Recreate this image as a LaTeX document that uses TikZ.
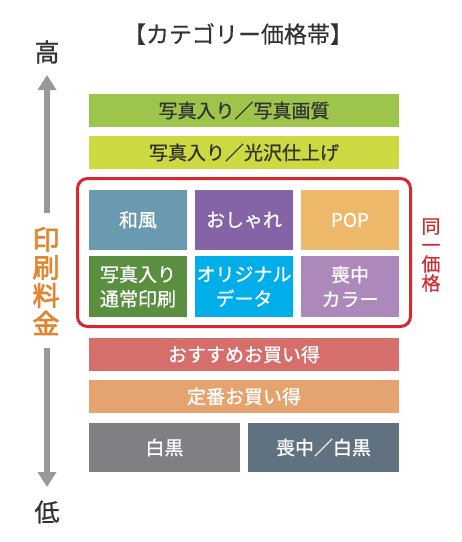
\documentclass[tikz,border=0pt]{standalone}
\usepackage{fontspec}
\setmainfont{Noto Sans CJK JP}[FakeBold=0.8]
\newfontfamily\jpb{Noto Sans CJK JP}[FakeBold=2.5]
\newfontfamily\jpr{Noto Sans CJK JP}[FakeBold=0.5]
\usetikzlibrary{arrows.meta}
\definecolor{cA}{HTML}{9DC54B}
\definecolor{cB}{HTML}{CCD940}
\definecolor{cC}{HTML}{6A9AB0}
\definecolor{cD}{HTML}{8464A6}
\definecolor{cE}{HTML}{EDB869}
\definecolor{cF}{HTML}{5A8E40}
\definecolor{cG}{HTML}{00AEEA}
\definecolor{cH}{HTML}{AD89BB}
\definecolor{cI}{HTML}{D66E6B}
\definecolor{cJ}{HTML}{E5A36F}
\definecolor{cK}{HTML}{808084}
\definecolor{cL}{HTML}{60717F}
\definecolor{redb}{HTML}{D42A2F}
\definecolor{orng}{HTML}{E0862F}
\definecolor{arr}{HTML}{999999}
\definecolor{txt}{HTML}{333333}
\begin{document}
\begin{tikzpicture}[x=1pt,y=-1pt,
  cell/.style={rectangle,inner sep=0pt,draw=none,align=center,text=white,
     font=\fontsize{19}{22}\selectfont},
  wide/.style={cell,minimum width=310pt,minimum height=33pt},
  gridc/.style={cell,minimum width=98pt,minimum height=60.5pt},
  half/.style={cell,minimum width=151pt,minimum height=49pt},
  darktext/.style={text=txt},
  garrow/.style={draw=arr,line width=6pt,-{Triangle[length=15pt,width=18pt]}}]
\useasboundingbox (0,0) rectangle (462,542);
\fill[white] (0,0) rectangle (462,542);
% title
\node[font=\jpr\fontsize{23}{26}\selectfont,text=txt] (title) at (238,34) {【カテゴリー価格帯】};
% wide boxes
\node[wide,darktext,fill=cA] (b1) at (244,110.5) {写真入り／写真画質};
\node[wide,darktext,fill=cB] (b2) at (244,152.5) {写真入り／光沢仕上げ};
% group
\node[draw=redb,line width=3pt,rounded corners=10pt,minimum width=333pt,minimum height=148pt,inner sep=0pt] (grp) at (244,252.5) {};
\node[gridc,fill=cC] (g1) at (138,220) {和風};
\node[gridc,fill=cD] (g2) at (244,220) {おしゃれ};
\node[gridc,fill=cE] (g3) at (350,220) {POP};
\node[gridc,fill=cF,font=\fontsize{19}{24.5}\selectfont] (g4) at (138,286.5) {写真入り\\通常印刷};
\node[gridc,fill=cG,font=\fontsize{19}{24.5}\selectfont] (g5) at (244,286.5) {オリジナル\\データ};
\node[gridc,fill=cH,font=\fontsize{19}{24.5}\selectfont] (g6) at (350,286.5) {喪中\\カラー};
% lower
\node[wide,fill=cI] (b3) at (244,354.5) {おすすめお買い得};
\node[wide,fill=cJ] (b4) at (244,396.5) {定番お買い得};
\node[half,fill=cK] (b5) at (164.5,447.5) {白黒};
\node[half,fill=cL] (b6) at (323.5,447.5) {喪中／白黒};
% side labels
\node[font=\fontsize{25}{27}\selectfont,text=txt] (hi) at (47,52) {高};
\node[font=\fontsize{25}{27}\selectfont,text=txt] (lo) at (47,512) {低};
\node[font=\jpb\fontsize{27}{28}\selectfont,text=orng,align=center,inner sep=0pt] (kin) at (46,281) {印\\刷\\料\\金};
\node[font=\jpr\fontsize{19}{19}\selectfont,text=redb,align=center,inner sep=0pt] (same) at (431,255) {同\\一\\価\\格};
% arrows
\coordinate (upS) at (47,213);
\coordinate (upE) at (47,75);
\coordinate (dnS) at (47,348);
\coordinate (dnE) at (47,487);
\draw[garrow] (upS) -- (upE);
\draw[garrow] (dnS) -- (dnE);
\end{tikzpicture}
\end{document}
